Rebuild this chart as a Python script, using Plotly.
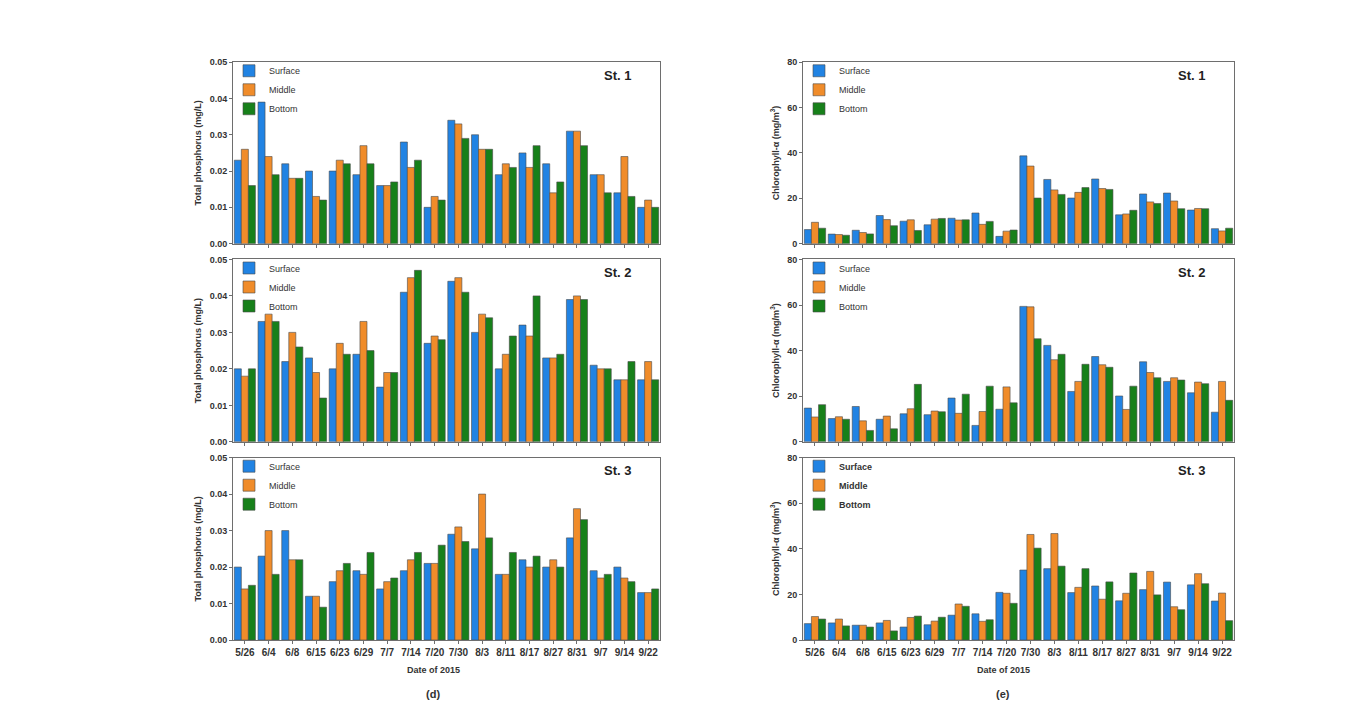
import plotly.graph_objects as go

dates = ["5/26", "6/4", "6/8", "6/15", "6/23", "6/29", "7/7", "7/14", "7/20",
         "7/30", "8/3", "8/11", "8/17", "8/27", "8/31", "9/7", "9/14", "9/22"]

# Total phosphorus (mg/L)
tp_st1_surface = [0.023, 0.039, 0.022, 0.020, 0.020, 0.019, 0.016, 0.028, 0.010, 0.034, 0.030, 0.019, 0.025, 0.022, 0.031, 0.019, 0.014, 0.010]
tp_st1_middle  = [0.026, 0.024, 0.018, 0.013, 0.023, 0.027, 0.016, 0.021, 0.013, 0.033, 0.026, 0.022, 0.021, 0.014, 0.031, 0.019, 0.024, 0.012]
tp_st1_bottom  = [0.016, 0.019, 0.018, 0.012, 0.022, 0.022, 0.017, 0.023, 0.012, 0.029, 0.026, 0.021, 0.027, 0.017, 0.027, 0.014, 0.013, 0.010]

tp_st2_surface = [0.020, 0.033, 0.022, 0.023, 0.020, 0.024, 0.015, 0.041, 0.027, 0.044, 0.030, 0.020, 0.032, 0.023, 0.039, 0.021, 0.017, 0.017]
tp_st2_middle  = [0.018, 0.035, 0.030, 0.019, 0.027, 0.033, 0.019, 0.045, 0.029, 0.045, 0.035, 0.024, 0.029, 0.023, 0.040, 0.020, 0.017, 0.022]
tp_st2_bottom  = [0.020, 0.033, 0.026, 0.012, 0.024, 0.025, 0.019, 0.047, 0.028, 0.041, 0.034, 0.029, 0.040, 0.024, 0.039, 0.020, 0.022, 0.017]

tp_st3_surface = [0.020, 0.023, 0.030, 0.012, 0.016, 0.019, 0.014, 0.019, 0.021, 0.029, 0.025, 0.018, 0.022, 0.020, 0.028, 0.019, 0.020, 0.013]
tp_st3_middle  = [0.014, 0.030, 0.022, 0.012, 0.019, 0.018, 0.016, 0.022, 0.021, 0.031, 0.040, 0.018, 0.020, 0.022, 0.036, 0.017, 0.017, 0.013]
tp_st3_bottom  = [0.015, 0.018, 0.022, 0.009, 0.021, 0.024, 0.017, 0.024, 0.026, 0.027, 0.028, 0.024, 0.023, 0.020, 0.033, 0.018, 0.016, 0.014]

# Chlorophyll-a (mg/m3)
chl_st1_surface = [6.2, 4.2, 5.9, 12.4, 9.9, 8.3, 11.2, 13.5, 3.2, 38.7, 28.3, 20.1, 28.5, 12.7, 21.9, 22.3, 14.8, 6.6]
chl_st1_middle  = [9.4, 4.0, 4.9, 10.6, 10.5, 10.8, 10.4, 8.5, 5.5, 34.2, 23.7, 22.6, 24.3, 13.1, 18.4, 18.8, 15.5, 5.6]
chl_st1_bottom  = [6.8, 3.7, 4.3, 7.9, 5.8, 11.1, 10.5, 9.8, 6.0, 20.1, 21.7, 24.7, 23.9, 14.7, 17.7, 15.4, 15.4, 6.8]

chl_st2_surface = [14.8, 10.2, 15.5, 9.9, 12.3, 11.9, 19.2, 7.2, 14.3, 59.4, 42.3, 22.1, 37.4, 20.1, 35.1, 26.5, 21.5, 13.0]
chl_st2_middle  = [10.9, 11.0, 9.2, 11.3, 14.5, 13.5, 12.5, 13.3, 24.1, 59.2, 36.0, 26.5, 33.8, 14.2, 30.4, 28.1, 26.2, 26.5]
chl_st2_bottom  = [16.3, 9.9, 5.0, 5.7, 25.2, 13.2, 20.9, 24.4, 17.1, 45.2, 38.4, 34.0, 32.7, 24.4, 28.1, 27.1, 25.5, 18.2]

chl_st3_surface = [7.2, 7.5, 6.5, 7.5, 5.7, 6.7, 10.9, 11.5, 20.9, 30.7, 31.3, 20.8, 23.7, 17.2, 22.1, 25.4, 24.2, 17.1]
chl_st3_middle  = [10.3, 9.2, 6.5, 8.6, 9.9, 8.3, 15.8, 8.2, 20.5, 46.3, 46.7, 23.1, 17.9, 20.5, 30.1, 14.6, 29.1, 20.6]
chl_st3_bottom  = [9.2, 6.2, 5.7, 4.0, 10.5, 10.0, 14.8, 8.9, 16.1, 40.3, 32.4, 31.3, 25.5, 29.4, 19.8, 13.3, 24.7, 8.5]

series_names = ["Surface", "Middle", "Bottom"]
colors = ["#2183E3", "#F08C2A", "#17801A"]

panels = [
    (tp_st1_surface, tp_st1_middle, tp_st1_bottom, "St. 1", 0, 0),
    (tp_st2_surface, tp_st2_middle, tp_st2_bottom, "St. 2", 0, 1),
    (tp_st3_surface, tp_st3_middle, tp_st3_bottom, "St. 3", 0, 2),
    (chl_st1_surface, chl_st1_middle, chl_st1_bottom, "St. 1", 1, 0),
    (chl_st2_surface, chl_st2_middle, chl_st2_bottom, "St. 2", 1, 1),
    (chl_st3_surface, chl_st3_middle, chl_st3_bottom, "St. 3", 1, 2),
]

W, H = 1353, 718
col_x = [(233, 660), (803, 1234)]
row_y = [(58, 242), (258, 443), (459, 644)]

FONT = "Liberation Sans, Arial, sans-serif"
TXT = "#333333"
AXC = "#6e6e6e"

fig = go.Figure()
layout = dict(
    width=W, height=H,
    margin=dict(l=0, r=0, t=0, b=0),
    paper_bgcolor="white", plot_bgcolor="white",
    barmode="group", bargap=0.11, bargroupgap=0.0,
    font=dict(family=FONT, color=TXT),
    annotations=[],
)

for i, (s, m, b, st, col, row) in enumerate(panels):
    k = i + 1
    xa = "x" if k == 1 else f"x{k}"
    ya = "y" if k == 1 else f"y{k}"
    lg = "legend" if k == 1 else f"legend{k}"
    for name, vals, c in zip(series_names, [s, m, b], colors):
        fig.add_trace(go.Bar(
            x=dates, y=vals, name=name, xaxis=xa, yaxis=ya, legend=lg,
            marker=dict(color=c, line=dict(color="#4a4a4a", width=0.6)),
        ))
    x0, x1 = col_x[col]
    y0, y1 = row_y[row]
    xdom = [x0 / W, x1 / W]
    ydom = [1 - y1 / H, 1 - y0 / H]
    is_bottom = row == 2
    xkey = "xaxis" if k == 1 else f"xaxis{k}"
    ykey = "yaxis" if k == 1 else f"yaxis{k}"
    layout[xkey] = dict(
        domain=xdom, anchor=ya, type="category", range=[-0.5, 17.5],
        showline=True, linecolor=AXC, linewidth=1, mirror=True,
        ticks="outside", ticklen=3, tickcolor=AXC, tickwidth=1,
        showticklabels=is_bottom, showgrid=False, zeroline=False,
        tickfont=dict(size=10, family=FONT, color=TXT, weight="bold"),
    )
    if col == 0:
        yt = dict(range=[0, 0.05], dtick=0.01, tickformat=".2f",
                  title=dict(text="Total phosphorus (mg/L)", standoff=6,
                             font=dict(size=9, weight="bold", color=TXT)))
    else:
        yt = dict(range=[0, 80], dtick=20, tickformat="d",
                  title=dict(text="Chlorophyll-α (mg/m<sup>3</sup>)", standoff=6,
                             font=dict(size=9, weight="bold", color=TXT)))
    layout[ykey] = dict(
        domain=ydom, anchor=xa,
        showline=True, linecolor=AXC, linewidth=1, mirror=True,
        ticks="outside", ticklen=3, tickcolor=AXC, tickwidth=1,
        showgrid=False, zeroline=False,
        tickfont=dict(size=9, family=FONT, color=TXT, weight="bold"),
        **yt,
    )
    bold_legend = (col == 1 and row == 2)
    layout[lg] = dict(
        x=(x0 - 4) / W, y=1 - (y0 - 6) / H, xanchor="left", yanchor="top",
        bgcolor="rgba(0,0,0,0)", borderwidth=0, tracegroupgap=0,
        itemwidth=30,
        font=dict(size=9, family=FONT, color=TXT, weight="bold" if bold_legend else "normal"),
    )
    layout["annotations"].append(dict(
        text=f"<b>{st}</b>", xref="paper", yref="paper",
        x=(x1 - 27) / W, y=1 - (y0 + 13) / H, xanchor="right", yanchor="middle",
        showarrow=False, font=dict(size=13, family=FONT, color="#222222"),
    ))

for txt, xc in [("Date of 2015", 434), ("Date of 2015", 1003)]:
    layout["annotations"].append(dict(
        text=f"<b>{txt}</b>", xref="paper", yref="paper",
        x=xc / W, y=1 - 674 / H, xanchor="center", yanchor="middle",
        showarrow=False, font=dict(size=9, family=FONT, color=TXT),
    ))
for txt, xc in [("(d)", 433), ("(e)", 1003)]:
    layout["annotations"].append(dict(
        text=f"<b>{txt}</b>", xref="paper", yref="paper",
        x=xc / W, y=1 - 699 / H, xanchor="center", yanchor="middle",
        showarrow=False, font=dict(size=11, family=FONT, color=TXT),
    ))

fig.update_layout(**layout)
fig.write_html("out.html")
